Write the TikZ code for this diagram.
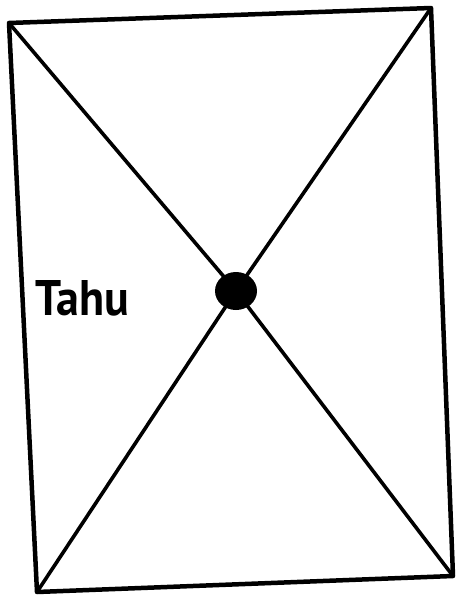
\documentclass[tikz,border=0pt]{standalone}
\usepackage{fontspec}
\setmainfont{PT Sans}
\begin{document}
\begin{tikzpicture}[x=1pt,y=-1pt,
  edge/.style={line width=4.5pt,line cap=round,line join=round},
  diag/.style={line width=3.6pt,line cap=round},
  lbl/.style={inner sep=0pt,font=\fontsize{50}{56}\selectfont\bfseries}]
\useasboundingbox (0,0) rectangle (456,597);
\coordinate (tl) at (9,23);
\coordinate (tr) at (431,8);
\coordinate (br) at (453,576);
\coordinate (bl) at (37,592);
\coordinate (c) at (236,291);
\draw[edge] (tl) -- (tr) -- (br) -- (bl) -- cycle;
\draw[diag] (tl) -- (c) -- (br);
\draw[diag] (tr) -- (c) -- (bl);
\fill (c) ellipse [x radius=21, y radius=19];
\node[lbl] (tahu) at (82,298) {\scalebox{0.92}[1]{Tahu}};
\end{tikzpicture}
\end{document}
